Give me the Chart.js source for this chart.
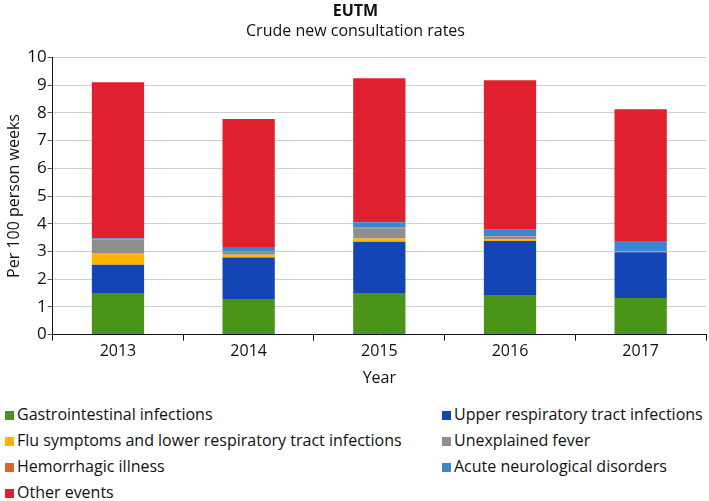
<!DOCTYPE html>
<html><head><meta charset="utf-8">
<script src="https://cdn.jsdelivr.net/npm/chart.js@4/dist/chart.umd.min.js"></script>
<style>
html,body{margin:0;padding:0;background:#fff;width:709px;height:501px;overflow:hidden;font-family:"Open Sans",sans-serif;}
#wrap{position:absolute;left:0;top:0;width:709px;height:390px;}
#legend{position:absolute;left:0;top:404px;width:709px;height:97px;}
.li{position:absolute;font-size:16px;color:#111;white-space:nowrap;line-height:20px;}
.sw{display:inline-block;width:9px;height:9px;margin-right:3px;vertical-align:0px;}
</style></head>
<body>
<div id="wrap"><canvas id="c"></canvas></div>
<div id="legend"></div>
<script>
const years = ['2013','2014','2015','2016','2017'];
const gastro = [1.50, 1.28, 1.50, 1.40, 1.32];
const urti = [1.02, 1.50, 1.85, 1.98, 1.65];
const flu = [0.42, 0.10, 0.12, 0.05, 0.02];
const fever = [0.48, 0.12, 0.37, 0.10, 0.03];
const hemorrhagic = [0.01, 0.02, 0.03, 0.02, 0.00];
const neuro = [0.05, 0.14, 0.18, 0.23, 0.36];
const other = [5.62, 4.62, 5.20, 5.40, 4.75];
const yTicks = [0,1,2,3,4,5,6,7,8,9,10];

const series = [
  {label:'Gastrointestinal infections', data:gastro, color:'#4a9418'},
  {label:'Upper respiratory tract infections', data:urti, color:'#1346b4'},
  {label:'Flu symptoms and lower respiratory tract infections', data:flu, color:'#ffb400'},
  {label:'Unexplained fever', data:fever, color:'#8e8e8e'},
  {label:'Hemorrhagic illness', data:hemorrhagic, color:'#df6530'},
  {label:'Acute neurological disorders', data:neuro, color:'#3a86d2'},
  {label:'Other events', data:other, color:'#e0202f'}
];

const font = "'Open Sans', sans-serif";
new Chart(document.getElementById('c'), {
  type:'bar',
  data:{labels:years, datasets:series.map(s=>({label:s.label,data:s.data,backgroundColor:s.color,borderWidth:0,categoryPercentage:0.8,barPercentage:0.5}))},
  options:{
    responsive:true, maintainAspectRatio:false, animation:false,
    layout:{padding:{left:5,right:3,top:2,bottom:2}},
    plugins:{
      legend:{display:false}, tooltip:{enabled:false},
      title:{display:true,text:'EUTM',color:'#111',font:{family:font,size:16,weight:'bold'},padding:{top:0,bottom:0}},
      subtitle:{display:true,text:'Crude new consultation rates',color:'#111',font:{family:font,size:16},padding:{top:1,bottom:16}}
    },
    scales:{
      x:{stacked:true,
        grid:{display:true,drawOnChartArea:false,offset:true,color:'#111',tickLength:6},
        border:{color:'#111',width:1},
        ticks:{color:'#111',font:{family:font,size:16},padding:1},
        title:{display:true,text:'Year',color:'#111',font:{family:font,size:16},padding:{top:7,bottom:0}}},
      y:{stacked:true,min:0,max:10,
        afterBuildTicks:(ax)=>{ax.ticks=yTicks.map(v=>({value:v}));},
        grid:{color:'#cfcfcf',tickColor:'#555',tickLength:5},
        border:{color:'#111',width:1},
        ticks:{color:'#111',font:{family:font,size:17},padding:1},
        title:{display:true,text:'Per 100 person weeks',color:'#111',font:{family:font,size:16},padding:{top:0,bottom:2}}}
    }
  }
});

const leg = document.getElementById('legend');
const pos = [[5,0],[442,0],[5,26],[442,26],[5,52],[442,52],[5,78]];
series.forEach((s,i)=>{
  const d=document.createElement('div');d.className='li';
  d.style.left=pos[i][0]+'px';d.style.top=pos[i][1]+'px';
  const sw=document.createElement('span');sw.className='sw';sw.style.background=s.color;
  d.appendChild(sw);d.appendChild(document.createTextNode(s.label));leg.appendChild(d);
});
</script>
</body></html>
